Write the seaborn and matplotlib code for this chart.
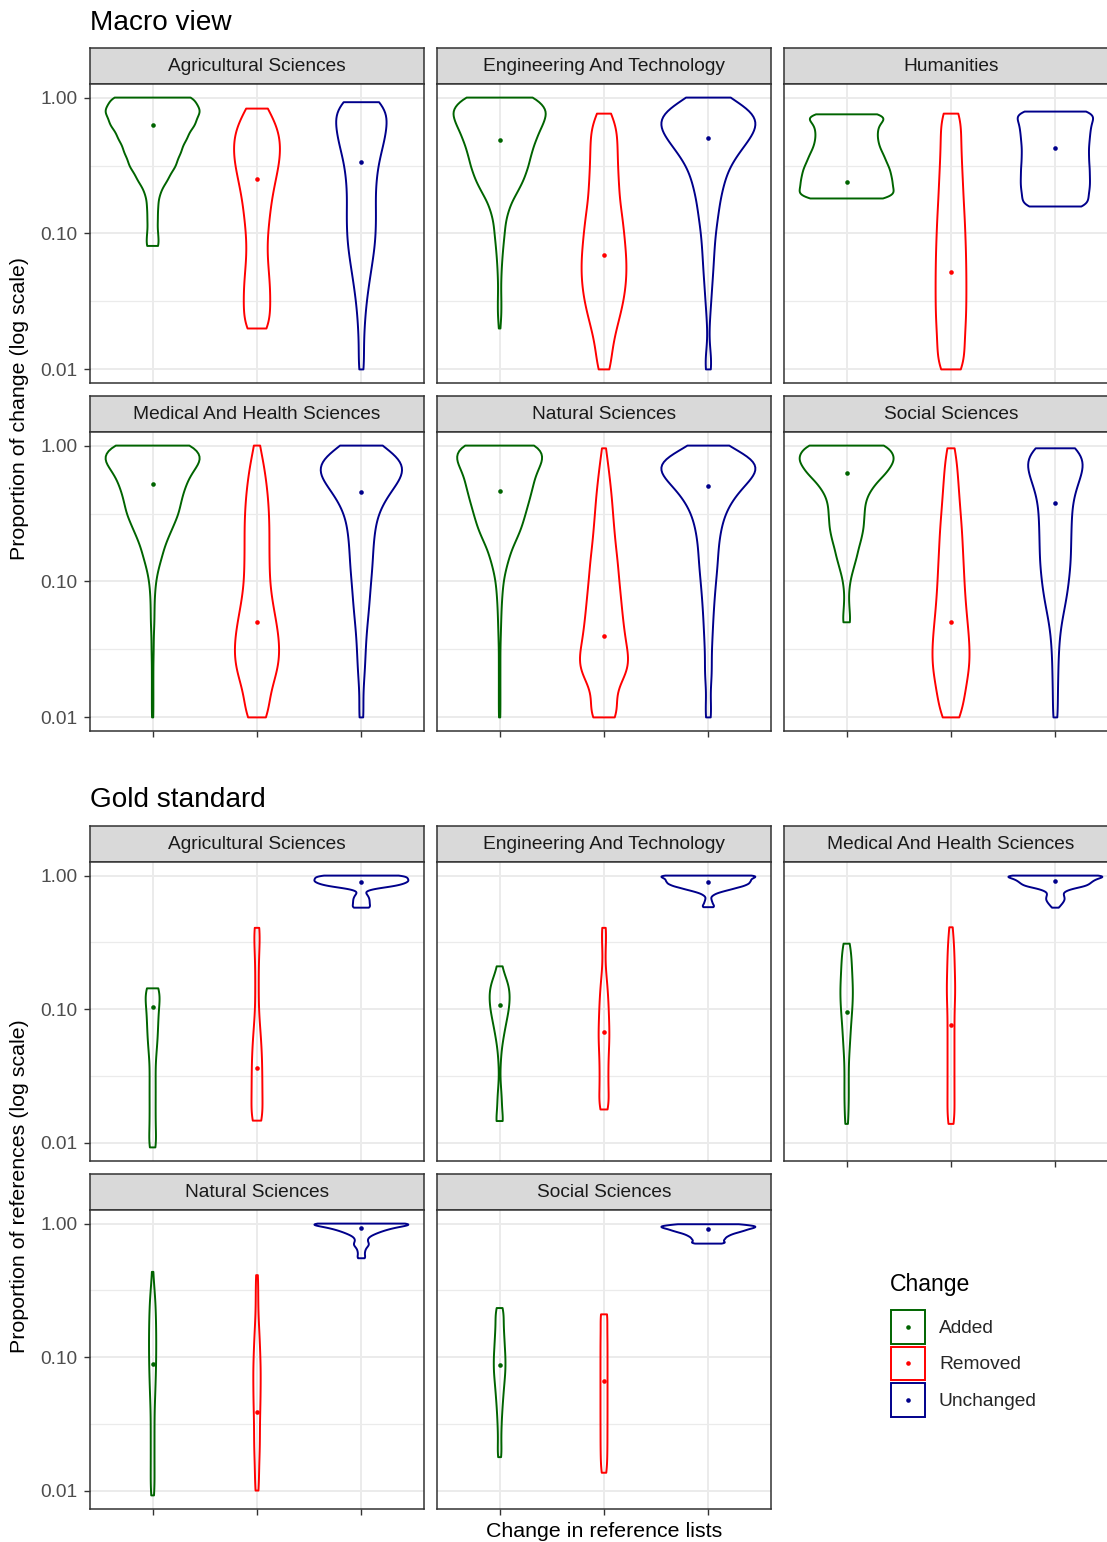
import numpy as np
import pandas as pd
import matplotlib
matplotlib.use("Agg")
import matplotlib.pyplot as plt
import seaborn as sns
from matplotlib.ticker import FixedLocator, StrMethodFormatter, NullFormatter
from matplotlib.patches import Patch, Rectangle
from matplotlib.lines import Line2D
from matplotlib.legend_handler import HandlerBase

# ---------------- data (value, count) ----------------
CHANGES = ["Added", "Removed", "Unchanged"]
COLORS = ["#006400", "#FF0000", "#00008B"]

MACRO_FIELDS = ["Agricultural Sciences", "Engineering And Technology", "Humanities",
                "Medical And Health Sciences", "Natural Sciences", "Social Sciences"]
GOLD_FIELDS = ["Agricultural Sciences", "Engineering And Technology",
               "Medical And Health Sciences", "Natural Sciences", "Social Sciences"]

m_agr_add = [(1.0,126),(0.794,142),(0.631,124),(0.501,100),(0.398,83),(0.316,69),(0.251,45),(0.2,22),(0.158,16),(0.126,15),(0.1,15),(0.081,18)]
m_agr_rem = [(0.83,40),(0.631,60),(0.501,65),(0.398,67),(0.316,62),(0.251,52),(0.2,45),(0.158,39),(0.126,34),(0.1,31),(0.0794,28),(0.0631,30),(0.0501,34),(0.0398,37),(0.0316,38),(0.0251,36),(0.02,38)]
m_agr_unc = [(0.925,48),(0.794,70),(0.631,73),(0.501,68),(0.398,56),(0.316,47),(0.251,42),(0.2,40),(0.158,41),(0.126,41),(0.1,41),(0.0794,38),(0.0631,32),(0.0501,26),(0.0398,20),(0.0316,15),(0.0251,11),(0.02,9),(0.0158,7),(0.0126,7),(0.01,9)]

m_eng_add = [(1.0,105),(0.794,135),(0.631,118),(0.501,101),(0.398,88),(0.316,80),(0.251,67),(0.2,48),(0.158,28),(0.126,17),(0.1,14),(0.0794,10),(0.0631,7),(0.0501,5),(0.0398,4),(0.0316,5),(0.0251,5),(0.02,2)]
m_eng_rem = [(0.762,17),(0.631,37),(0.501,40),(0.398,40),(0.316,41),(0.251,43),(0.2,45),(0.158,49),(0.126,55),(0.1,60),(0.0794,63),(0.0631,67),(0.0501,67),(0.0398,64),(0.0316,58),(0.0251,48),(0.02,37),(0.0158,28),(0.0126,21),(0.01,22)]
m_eng_unc = [(1.0,55),(0.794,130),(0.631,141),(0.501,115),(0.398,85),(0.316,59),(0.251,45),(0.2,37),(0.158,30),(0.126,25),(0.1,20),(0.0794,17),(0.0631,15),(0.0501,13),(0.0398,10),(0.0316,8),(0.0251,5),(0.02,3),(0.0158,2),(0.0126,8),(0.01,10)]

m_hum_add = [(0.753,90),(0.708,102),(0.631,101),(0.562,96),(0.501,95),(0.447,100),(0.398,110),(0.355,120),(0.316,129),(0.282,137),(0.251,142),(0.224,141),(0.2,139),(0.181,137)]
m_hum_rem = [(0.762,37),(0.631,35),(0.501,37),(0.398,39),(0.316,41),(0.251,43),(0.2,46),(0.158,48),(0.126,51),(0.1,53),(0.0794,55),(0.0631,56),(0.0501,57),(0.0398,57),(0.0316,57),(0.0251,56),(0.02,54),(0.0158,50),(0.0126,48),(0.01,57)]
m_hum_unc = [(0.789,125),(0.708,104),(0.631,103),(0.562,100),(0.501,97),(0.447,96),(0.398,95),(0.355,96),(0.316,97),(0.282,98),(0.251,99),(0.224,97),(0.2,96),(0.178,93),(0.158,110)]

m_med_add = [(1.0,120),(0.794,137),(0.631,104),(0.501,88),(0.398,77),(0.316,71),(0.251,54),(0.2,38),(0.158,27),(0.126,16),(0.1,9),(0.0794,6),(0.0631,5),(0.0501,5),(0.0398,3),(0.0316,3),(0.0251,2),(0.02,2),(0.0158,2),(0.0126,2),(0.01,2)]
m_med_rem = [(1.0,8),(0.794,17),(0.631,23),(0.501,28),(0.398,32),(0.316,34),(0.251,35),(0.2,35),(0.158,35),(0.126,35),(0.1,36),(0.0794,40),(0.0631,47),(0.0501,55),(0.0398,61),(0.0316,65),(0.0251,63),(0.02,54),(0.0158,38),(0.0126,31),(0.01,39)]
m_med_unc = [(1.0,50),(0.794,115),(0.631,118),(0.501,85),(0.398,60),(0.316,42),(0.251,35),(0.2,32),(0.158,30),(0.126,28),(0.1,25),(0.0794,22),(0.0631,20),(0.0501,16),(0.0398,13),(0.0316,11),(0.0251,10),(0.02,8),(0.0158,5),(0.0126,4),(0.01,8)]

m_nat_add = [(1.0,111),(0.794,115),(0.631,94),(0.501,86),(0.398,77),(0.316,67),(0.251,57),(0.2,42),(0.158,27),(0.126,17),(0.1,10),(0.0794,7),(0.0631,5),(0.0501,4),(0.0398,3),(0.0316,2),(0.0251,2),(0.02,2),(0.0158,2),(0.0126,2),(0.01,2)]
m_nat_rem = [(0.955,4),(0.794,9),(0.631,14),(0.501,18),(0.398,22),(0.316,24),(0.251,27),(0.2,30),(0.158,35),(0.126,38),(0.1,41),(0.0794,45),(0.0631,48),(0.0501,52),(0.0398,56),(0.0316,62),(0.0251,72),(0.02,62),(0.0158,25),(0.0126,34),(0.01,47)]
m_nat_unc = [(1.0,22),(0.794,140),(0.631,120),(0.501,80),(0.398,55),(0.316,38),(0.251,30),(0.2,25),(0.158,23),(0.126,21),(0.1,18),(0.0794,15),(0.0631,13),(0.0501,11),(0.0398,10),(0.0316,8),(0.0251,7),(0.02,10),(0.0158,3),(0.0126,6),(0.01,9)]

m_soc_add = [(1.0,126),(0.794,142),(0.631,115),(0.501,75),(0.398,54),(0.316,51),(0.251,49),(0.2,41),(0.158,31),(0.126,20),(0.1,10),(0.0794,6),(0.0631,8),(0.0501,12)]
m_soc_rem = [(0.955,11),(0.794,15),(0.631,20),(0.501,22),(0.398,25),(0.316,28),(0.251,31),(0.2,34),(0.158,35),(0.126,37),(0.1,39),(0.0794,41),(0.0631,44),(0.0501,48),(0.0398,52),(0.0316,55),(0.0251,55),(0.02,50),(0.0158,42),(0.0126,35),(0.01,33)]
m_soc_unc = [(0.955,58),(0.794,80),(0.631,75),(0.501,58),(0.398,47),(0.316,45),(0.251,43),(0.2,43),(0.158,43),(0.126,40),(0.1,37),(0.0794,32),(0.0631,25),(0.0501,17),(0.0398,12),(0.0316,10),(0.0251,8),(0.02,8),(0.0158,7),(0.0126,6),(0.01,8)]

g_agr_add = [(0.143,24),(0.126,32),(0.1,28),(0.0794,26),(0.0631,24),(0.0501,20),(0.0398,13),(0.0316,14),(0.0251,14),(0.02,14),(0.0158,14),(0.0126,14),(0.01,14),(0.0092,10)]
g_agr_rem = [(0.406,19),(0.316,15),(0.251,10),(0.2,9),(0.158,9),(0.126,9),(0.1,9),(0.0794,14),(0.0631,20),(0.0501,24),(0.0398,27),(0.0316,27),(0.0251,28),(0.02,27),(0.0158,27),(0.0146,16)]
g_agr_unc = [(1.0,143),(0.955,130),(0.912,142),(0.871,125),(0.832,100),(0.794,30),(0.759,9),(0.724,16),(0.692,21),(0.661,24),(0.631,24),(0.603,24),(0.575,30)]

g_eng_add = [(0.209,24),(0.158,74),(0.126,86),(0.1,78),(0.0794,54),(0.0631,34),(0.0501,16),(0.0398,9),(0.0316,4),(0.0251,12),(0.02,22),(0.0145,42)]
g_eng_rem = [(0.406,18),(0.316,15),(0.251,8),(0.2,12),(0.158,22),(0.126,28),(0.1,33),(0.0794,35),(0.0631,39),(0.0501,34),(0.0398,30),(0.0316,30),(0.0251,30),(0.02,30),(0.0177,20)]
g_eng_unc = [(1.0,177),(0.955,140),(0.912,138),(0.871,133),(0.832,115),(0.794,80),(0.759,45),(0.724,20),(0.692,8),(0.661,10),(0.631,13),(0.603,15),(0.58,19)]

g_med_add = [(0.309,22),(0.251,30),(0.2,36),(0.158,40),(0.126,42),(0.1,38),(0.0794,30),(0.0631,25),(0.0501,20),(0.0398,14),(0.0316,14),(0.0251,14),(0.02,15),(0.0158,9),(0.0138,8)]
g_med_rem = [(0.41,14),(0.316,20),(0.251,22),(0.2,24),(0.158,27),(0.126,28),(0.1,22),(0.0794,22),(0.0631,22),(0.0501,22),(0.0398,22),(0.0316,22),(0.0251,22),(0.02,22),(0.0158,22),(0.0138,14)]
g_med_unc = [(1.0,182),(0.955,133),(0.912,118),(0.871,108),(0.832,97),(0.794,50),(0.759,28),(0.724,25),(0.692,28),(0.661,30),(0.631,25),(0.603,18),(0.575,12)]

g_nat_add = [(0.435,6),(0.316,17),(0.251,22),(0.2,25),(0.158,27),(0.126,27),(0.1,27),(0.0794,25),(0.0631,22),(0.0501,19),(0.0398,14),(0.0316,14),(0.0251,14),(0.02,14),(0.0158,14),(0.0126,14),(0.01,14),(0.0092,6)]
g_nat_rem = [(0.411,10),(0.316,12),(0.251,9),(0.2,13),(0.158,19),(0.126,24),(0.1,28),(0.0794,32),(0.0631,30),(0.0501,30),(0.0398,27),(0.0316,24),(0.0251,24),(0.02,24),(0.0158,18),(0.0126,16),(0.01,17)]
g_nat_unc = [(1.0,187),(0.955,115),(0.912,82),(0.871,57),(0.832,38),(0.794,22),(0.759,17),(0.724,20),(0.692,24),(0.661,15),(0.631,11),(0.603,10),(0.575,10),(0.55,13)]

g_soc_add = [(0.233,18),(0.2,28),(0.158,32),(0.126,37),(0.1,44),(0.0794,44),(0.0631,35),(0.0501,27),(0.0398,20),(0.0316,15),(0.0251,12),(0.02,12),(0.0178,8)]
g_soc_rem = [(0.209,32),(0.158,22),(0.126,23),(0.1,23),(0.0794,23),(0.0631,23),(0.0501,23),(0.0398,23),(0.0316,23),(0.0251,22),(0.02,23),(0.0158,18),(0.0136,14)]
g_soc_unc = [(0.989,95),(0.955,140),(0.923,125),(0.891,105),(0.861,85),(0.832,65),(0.804,55),(0.776,48),(0.750,43),(0.724,41),(0.708,33)]

# summary (median) points, order Added / Removed / Unchanged
m_agr_med = [0.626, 0.251, 0.333]
m_eng_med = [0.491, 0.0697, 0.502]
m_hum_med = [0.24, 0.0517, 0.429]
m_med_med = [0.526, 0.05, 0.456]
m_nat_med = [0.464, 0.040, 0.505]
m_soc_med = [0.63, 0.050, 0.381]
g_agr_med = [0.103, 0.0359, 0.892]
g_eng_med = [0.107, 0.0671, 0.892]
g_med_med = [0.0958, 0.076, 0.907]
g_nat_med = [0.0884, 0.0385, 0.923]
g_soc_med = [0.087, 0.0667, 0.918]

macro_series = [(m_agr_add, m_agr_rem, m_agr_unc), (m_eng_add, m_eng_rem, m_eng_unc),
                (m_hum_add, m_hum_rem, m_hum_unc), (m_med_add, m_med_rem, m_med_unc),
                (m_nat_add, m_nat_rem, m_nat_unc), (m_soc_add, m_soc_rem, m_soc_unc)]
macro_meds = [m_agr_med, m_eng_med, m_hum_med, m_med_med, m_nat_med, m_soc_med]
gold_series = [(g_agr_add, g_agr_rem, g_agr_unc), (g_eng_add, g_eng_rem, g_eng_unc),
               (g_med_add, g_med_rem, g_med_unc), (g_nat_add, g_nat_rem, g_nat_unc),
               (g_soc_add, g_soc_rem, g_soc_unc)]
gold_meds = [g_agr_med, g_eng_med, g_med_med, g_nat_med, g_soc_med]

# ---------------- style ----------------
sns.set_theme(style="white")
plt.rcParams["font.family"] = ["Liberation Sans", "DejaVu Sans"]

W, H = 1107, 1542
fig = plt.figure(figsize=(W / 100, H / 100), dpi=100)

COL_X = [90, 437, 784]
PW, PH, SH = 334, 299, 36.5
BORDER = "#333333"
GRID = "#EBEBEB"
LW = 1.4
SMALL = 13.8


def rect(x, ytop, w, h):
    return [x / W, 1 - (ytop + h) / H, w / W, h / H]


def panel_frame(series):
    parts = []
    for change, pairs in zip(CHANGES, series):
        vals = np.repeat([v for v, n in pairs], [int(n) for v, n in pairs])
        parts.append(pd.DataFrame({"Change": change, "value": vals}))
    return pd.concat(parts, ignore_index=True)


def section_ylim(all_series):
    vals = [v for s in all_series for pairs in s for v, n in pairs]
    lo, hi = np.log10(min(vals)), np.log10(max(vals))
    pad = 0.05 * (hi - lo)
    return 10 ** (lo - pad), 10 ** (hi + pad)


def draw_panel(x, ytop, series, meds, label, bw, ylim, left, bottom):
    sax = fig.add_axes(rect(x, ytop - SH, PW, SH))
    sax.set_facecolor("#D9D9D9")
    sax.set_xticks([]); sax.set_yticks([])
    for s in sax.spines.values():
        s.set_color(BORDER); s.set_linewidth(1.1)
    sax.text(0.5, 0.47, label, ha="center", va="center", fontsize=SMALL,
             color="#1A1A1A", transform=sax.transAxes)

    ax = fig.add_axes(rect(x, ytop, PW, PH))
    df = panel_frame(series)
    sns.violinplot(data=df, x="Change", y="value", hue="Change", order=CHANGES,
                   hue_order=CHANGES, palette=COLORS, saturation=1, fill=False,
                   inner=None, cut=0, density_norm="area", common_norm=True, width=0.9,
                   linewidth=LW, bw_method=bw, log_scale=True, legend=False, ax=ax)
    mdf = pd.DataFrame({"Change": CHANGES, "value": meds})
    sns.stripplot(data=mdf, x="Change", y="value", hue="Change", order=CHANGES,
                  hue_order=CHANGES, palette=COLORS, jitter=False, size=3.3,
                  linewidth=0, log_scale=True, legend=False, ax=ax, zorder=5)
    ax.set_xlim(-0.6, 2.6)
    ax.set_ylim(*ylim)
    ax.set_xlabel(""); ax.set_ylabel("")
    ax.yaxis.set_major_locator(FixedLocator([0.01, 0.1, 1.0]))
    ax.yaxis.set_minor_locator(FixedLocator([10 ** -1.5, 10 ** -0.5]))
    ax.yaxis.set_major_formatter(StrMethodFormatter("{x:.2f}"))
    ax.yaxis.set_minor_formatter(NullFormatter())
    ax.grid(True, which="major", color=GRID, linewidth=1.4)
    ax.grid(True, which="minor", axis="y", color=GRID, linewidth=0.9)
    ax.set_axisbelow(True)
    for s in ax.spines.values():
        s.set_color(BORDER); s.set_linewidth(1.1)
    ax.tick_params(which="minor", length=0)
    ax.tick_params(which="major", length=4.3, width=1.0, color=BORDER,
                   labelsize=SMALL, labelcolor="#4D4D4D", pad=4.5)
    ax.tick_params(axis="x", labelbottom=False, bottom=bottom)
    ax.tick_params(axis="y", labelleft=left, left=left)
    return ax


# ---------------- Macro view ----------------
fig.text(90 / W, 1 - 30 / H, "Macro view", ha="left", va="baseline", fontsize=20.2, color="black")
ylim_m = section_ylim(macro_series)
for i, (field, series, meds) in enumerate(zip(MACRO_FIELDS, macro_series, macro_meds)):
    r, c = divmod(i, 3)
    ytop = [84, 432][r]
    draw_panel(COL_X[c], ytop, series, meds, field, 0.2, ylim_m, left=(c == 0), bottom=(r == 1))

# ---------------- Gold standard ----------------
fig.text(90 / W, 1 - 807 / H, "Gold standard", ha="left", va="baseline", fontsize=20.2, color="black")
ylim_g = section_ylim(gold_series)
for i, (field, series, meds) in enumerate(zip(GOLD_FIELDS, gold_series, gold_meds)):
    r, c = divmod(i, 3)
    ytop = [862, 1210][r]
    bottom = (r == 1) or (c == 2)
    draw_panel(COL_X[c], ytop, series, meds, field, 0.22, ylim_g, left=(c == 0), bottom=bottom)

# axis titles
fig.text(20 / W, 1 - 408 / H, "Proportion of change (log scale)", rotation=90,
         ha="center", va="center", fontsize=15.4, color="black")
fig.text(20 / W, 1 - 1186 / H, "Proportion of references (log scale)", rotation=90,
         ha="center", va="center", fontsize=15.4, color="black")
fig.text(604 / W, 1 - 1537 / H, "Change in reference lists", ha="center",
         va="baseline", fontsize=15.4, color="black")


# legend: outlined key with the summary dot in its centre
class KeyHandler(HandlerBase):
    def create_artists(self, legend, orig_handle, xdescent, ydescent, width, height,
                       fontsize, trans):
        col = orig_handle.get_edgecolor()
        box = Rectangle((-xdescent, -ydescent), width, height, facecolor="white",
                        edgecolor=col, linewidth=1.4, transform=trans)
        dot = Line2D([-xdescent + width / 2], [-ydescent + height / 2], marker="o",
                     markersize=3.3, markeredgewidth=0, color=col, linestyle="none",
                     transform=trans)
        return [box, dot]


fig.text(890 / W, 1 - 1291 / H, "Change", ha="left", va="baseline", fontsize=16.6, color="black")
handles = [Patch(facecolor="white", edgecolor=col) for col in COLORS]
fig.legend(handles, CHANGES, handler_map={Patch: KeyHandler()},
           loc="upper left", bbox_to_anchor=(891 / W, 1 - 1310 / H), frameon=False,
           fontsize=SMALL, handlelength=1.78, handleheight=2.32, labelspacing=0.16,
           handletextpad=0.72, borderaxespad=0, borderpad=0)

fig.savefig("out.png", dpi=100)
